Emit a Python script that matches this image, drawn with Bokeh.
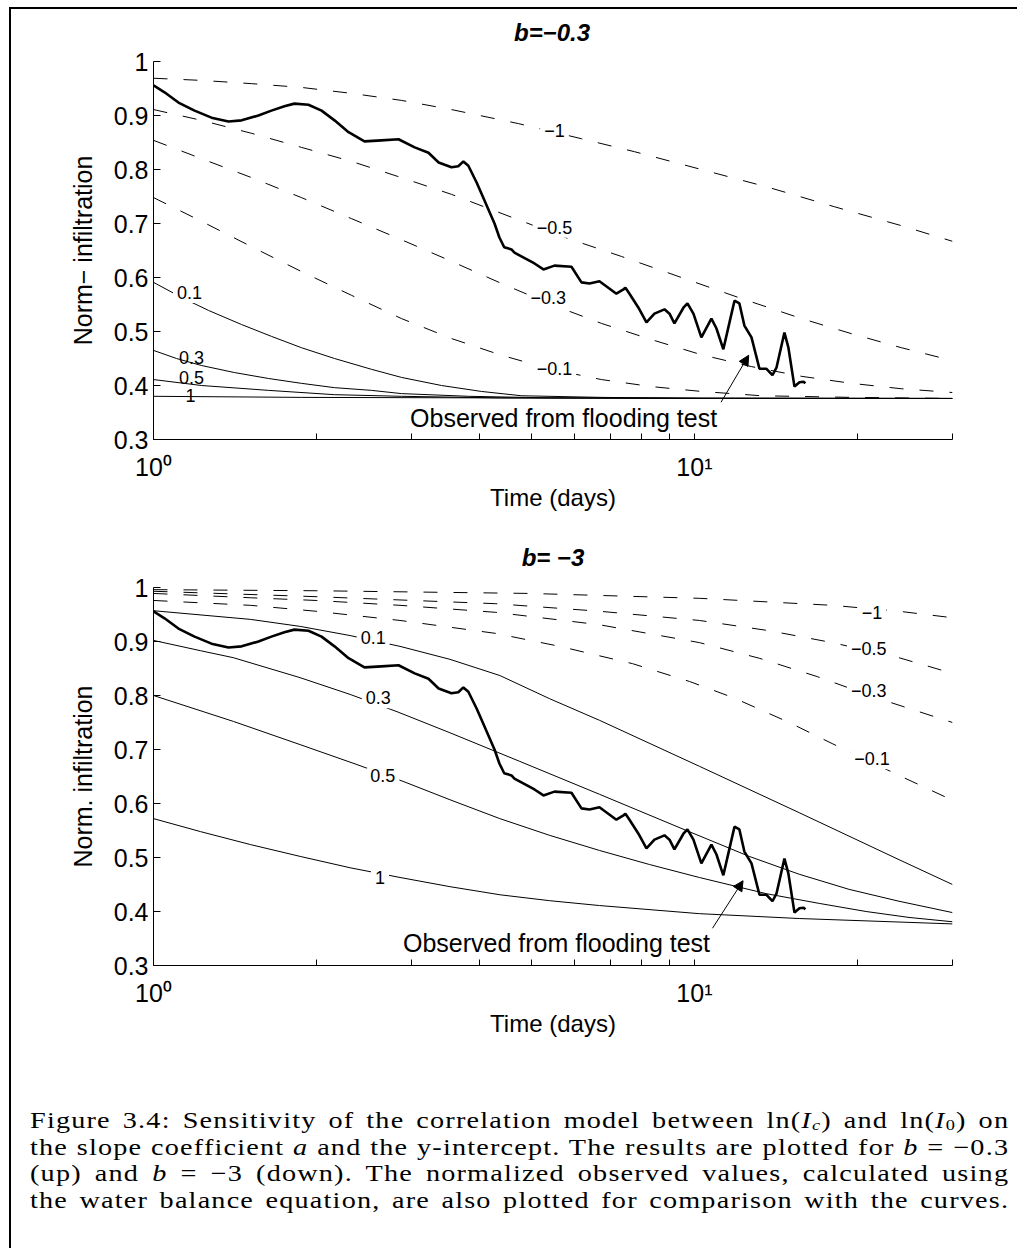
from bokeh.plotting import figure
from bokeh.layouts import column
from bokeh.models import (ColumnDataSource, FixedTicker, LabelSet, Arrow,
                          NormalHead, Div, Range1d)
from bokeh.core.properties import value
from bokeh.embed import file_html
from bokeh.resources import INLINE

SANS = "Liberation Sans"
DASH = "14 16"

# ---- observed normalised infiltration (water balance), flooding test ----
obs_days = [1.000, 1.048, 1.112, 1.191, 1.280, 1.376, 1.455, 1.563, 1.652, 1.746,
            1.822, 1.934, 2.045, 2.161, 2.294, 2.455, 2.637, 2.838, 3.040, 3.224,
            3.366, 3.555, 3.660, 3.740, 3.820, 3.957, 4.090, 4.270, 4.360, 4.450,
            4.590, 4.648, 5.062, 5.259, 5.511, 5.925, 6.183, 6.397, 6.675, 7.174,
            7.393, 7.456, 7.585, 7.880, 8.153, 8.436, 8.803, 8.994, 9.184, 9.543,
            9.707, 9.958, 10.30, 10.75, 10.98, 11.31, 11.60, 11.86, 12.11, 12.37,
            12.75, 13.19, 13.59, 13.94, 14.18, 14.67, 14.92, 15.31, 15.64, 15.91,
            16.04]
obs_norm = [0.956, 0.943, 0.924, 0.909, 0.896, 0.889, 0.891, 0.900, 0.909, 0.917,
            0.922, 0.920, 0.909, 0.891, 0.869, 0.852, 0.854, 0.856, 0.841, 0.831,
            0.813, 0.804, 0.806, 0.815, 0.807, 0.776, 0.743, 0.700, 0.674, 0.656,
            0.652, 0.646, 0.626, 0.615, 0.622, 0.620, 0.591, 0.589, 0.593, 0.570,
            0.578, 0.581, 0.570, 0.544, 0.517, 0.533, 0.541, 0.533, 0.515, 0.544,
            0.552, 0.533, 0.489, 0.524, 0.506, 0.467, 0.515, 0.557, 0.552, 0.511,
            0.489, 0.431, 0.431, 0.419, 0.433, 0.498, 0.470, 0.398, 0.406, 0.407,
            0.404]

# ---- model curves, b = -0.3 (one per slope coefficient a) ----
b03_m1_days = [1, 1.227, 1.518, 1.877, 2.323, 2.873, 3.555, 4.728, 6.183, 7.747,
               10.30, 13.70, 18.15, 24.13, 30]
b03_m1_norm = [0.969, 0.965, 0.959, 0.952, 0.941, 0.928, 0.911, 0.885, 0.857, 0.833,
               0.800, 0.767, 0.731, 0.696, 0.667]
b03_m05_days = [1, 1.227, 1.518, 1.877, 2.323, 2.873, 3.555, 4.609, 5.850, 7.330,
                9.462, 12.22, 15.77, 19.51, 24.13, 30]
b03_m05_norm = [0.911, 0.891, 0.867, 0.841, 0.815, 0.785, 0.754, 0.711, 0.672, 0.639,
                0.600, 0.561, 0.524, 0.496, 0.470, 0.446]
b03_m03_days = [1, 1.227, 1.518, 1.877, 2.323, 2.873, 3.555, 4.398, 5.441, 6.731,
                8.328, 10.30, 12.75, 15.77, 19.51, 24.13, 30]
b03_m03_norm = [0.854, 0.820, 0.785, 0.748, 0.709, 0.670, 0.630, 0.589, 0.550, 0.515,
                0.485, 0.457, 0.435, 0.417, 0.404, 0.394, 0.387]
b03_m01_days = [1, 1.227, 1.518, 1.877, 2.323, 2.873, 3.555, 4.398, 5.441, 6.731,
                8.328, 10.30, 13.30, 19.51, 30]
b03_m01_norm = [0.748, 0.704, 0.657, 0.611, 0.567, 0.524, 0.487, 0.456, 0.430, 0.411,
                0.398, 0.389, 0.381, 0.378, 0.376]
b03_p01_days = [1, 1.127, 1.264, 1.454, 1.652, 1.877, 2.161, 2.529, 2.873, 3.407,
                4.039, 4.788, 6.731, 10.30, 30]
b03_p01_norm = [0.591, 0.563, 0.539, 0.513, 0.491, 0.470, 0.450, 0.430, 0.415, 0.400,
                0.389, 0.381, 0.378, 0.376, 0.376]
b03_p03_days = [1, 1.103, 1.227, 1.411, 1.631, 1.877, 2.161, 2.529, 2.873, 3.822,
                5.441, 10.30, 30]
b03_p03_norm = [0.465, 0.450, 0.437, 0.424, 0.413, 0.404, 0.396, 0.391, 0.385, 0.380,
                0.377, 0.376, 0.376]
b03_p05_days = [1, 1.227, 1.631, 2.161, 2.873, 4.398, 30]
b03_p05_norm = [0.411, 0.400, 0.391, 0.383, 0.380, 0.377, 0.376]
b03_p1_days = [1, 1.877, 4.398, 30]
b03_p1_norm = [0.380, 0.378, 0.377, 0.376]

# ---- model curves, b = -3 ----
b3_m1_days = [1, 1.998, 4.962, 10.21, 17.97, 23.89, 30]
b3_m1_norm = [0.996, 0.994, 0.989, 0.980, 0.967, 0.956, 0.944]
b3_m05_days = [1, 1.998, 4.294, 6.678, 10.21, 13.75, 17.97, 23.89, 30]
b3_m05_norm = [0.993, 0.983, 0.970, 0.956, 0.939, 0.920, 0.898, 0.870, 0.841]
b3_m03_days = [1, 1.510, 1.998, 2.856, 4.294, 6.678, 10.21, 13.18, 16.87, 21.94, 30]
b3_m03_norm = [0.989, 0.981, 0.976, 0.967, 0.954, 0.931, 0.898, 0.869, 0.835, 0.794,
               0.750]
b3_m01_days = [1, 1.510, 1.998, 2.856, 4.294, 5.636, 7.683, 9.790, 11.80, 14.97,
               17.97, 23.89, 30]
b3_m01_norm = [0.976, 0.967, 0.956, 0.939, 0.915, 0.891, 0.859, 0.826, 0.796, 0.750,
               0.711, 0.652, 0.606]
b3_p01_days = [1, 1.510, 1.867, 2.309, 2.856, 3.532, 4.368, 5.401, 6.678, 10.21,
               15.62, 23.89, 30]
b3_p01_norm = [0.957, 0.941, 0.928, 0.911, 0.891, 0.867, 0.837, 0.794, 0.754, 0.669,
               0.583, 0.496, 0.450]
b3_p03_days = [1, 1.221, 1.405, 1.867, 2.309, 2.820, 3.532, 4.755, 6.678, 9.665,
               12.63, 15.62, 19.32, 23.89, 30]
b3_p03_norm = [0.902, 0.883, 0.870, 0.833, 0.802, 0.770, 0.731, 0.678, 0.617, 0.550,
               0.502, 0.469, 0.441, 0.419, 0.398]
b3_p05_days = [1, 1.405, 1.867, 2.379, 2.893, 3.532, 4.368, 5.401, 6.678, 8.260,
               10.21, 13.58, 17.01, 20.77, 24.93, 30]
b3_p05_norm = [0.800, 0.752, 0.709, 0.672, 0.641, 0.607, 0.572, 0.541, 0.513, 0.487,
               0.463, 0.433, 0.415, 0.400, 0.389, 0.381]
b3_p1_days = [1, 1.221, 1.510, 1.867, 2.309, 2.856, 3.532, 4.368, 5.401, 6.678,
              10.21, 15.62, 30]
b3_p1_norm = [0.572, 0.548, 0.524, 0.502, 0.481, 0.463, 0.446, 0.431, 0.420, 0.411,
              0.396, 0.387, 0.377]

# ---- curve labels (value of a) ----
b03_gap_lbl_text = ["\u22121", "\u22120.5", "\u22120.3", "\u22120.1", "0.1"]
b03_gap_lbl_days = [5.51, 5.51, 5.37, 5.51, 1.166]
b03_gap_lbl_norm = [0.872, 0.693, 0.563, 0.431, 0.572]
b03_lbl_text = ["0.3", "0.5", "1"]
b03_lbl_days = [1.176, 1.176, 1.17]
b03_lbl_norm = [0.452, 0.415, 0.381]

b3_gap_lbl_text = ["\u22121", "\u22120.5", "\u22120.3", "\u22120.1", "0.1", "0.3", "0.5", "1"]
b3_gap_lbl_days = [21.3, 21.0, 21.0, 21.3, 2.548, 2.604, 2.655, 2.623]
b3_gap_lbl_norm = [0.954, 0.887, 0.809, 0.683, 0.907, 0.796, 0.652, 0.463]

# ---- annotation of the observed series ----
note_text = "Observed from flooding test"
b03_note = (5.73, 0.339)
b03_arrow = (11.2, 0.369, 12.6, 0.456)
b3_note = (5.56, 0.341)
b3_arrow = (10.8, 0.369, 12.3, 0.457)

x_major = [1, 10]
x_minor = [2, 3, 4, 5, 6, 7, 8, 9, 20, 30]
y_ticks = [0.3, 0.4, 0.5, 0.6, 0.7, 0.8, 0.9, 1.0]


def heading(text, left, height, pad_top):
    """Bold-italic panel heading centred over an 800 px wide plot frame."""
    inner = (f'<div style="padding: {pad_top}px 0 0 {left}px;">'
             f'<div style="width: 800px; text-align: center;">{text}</div></div>')
    return Div(text=inner, width=1008, height=height, margin=0,
               styles={"font-family": f"'{SANS}', sans-serif", "font-size": "24px",
                       "font-weight": "bold", "font-style": "italic",
                       "line-height": "28px", "color": "black",
                       "overflow": "hidden"})


def make_panel(ylabel, dashed, solid, gap_lbl, plain_lbl, note, arrow,
               height, left, right, top, bottom):
    p = figure(width=1008, height=height, x_axis_type="log",
               x_range=Range1d(1, 30), y_range=Range1d(0.3, 1.0),
               output_backend="svg", toolbar_location=None,
               min_border_left=left, min_border_right=right,
               min_border_top=top, min_border_bottom=bottom)
    p.outline_line_color = None
    p.grid.visible = False
    p.background_fill_color = "white"
    p.border_fill_color = "white"

    xa, ya = p.xaxis[0], p.yaxis[0]
    xa.ticker = FixedTicker(ticks=x_major, minor_ticks=x_minor)
    xa.major_label_overrides = {1: "10\u2070", 10: "10\u00b9"}
    ya.ticker = FixedTicker(ticks=y_ticks)
    ya.major_label_overrides = {1.0: "1"}
    for ax in (xa, ya):
        ax.axis_line_color = "black"
        ax.major_tick_line_color = "black"
        ax.minor_tick_line_color = "black"
        ax.major_tick_out = 0
        ax.minor_tick_out = 0
        ax.major_label_text_font = SANS
        ax.major_label_text_font_size = "25px"
        ax.major_label_text_color = "black"
        ax.axis_label_text_font = SANS
        ax.axis_label_text_font_style = "normal"
        ax.axis_label_text_color = "black"
    xa.major_tick_in = 6
    xa.minor_tick_in = 6
    xa.major_label_standoff = 13
    xa.axis_label = "Time (days)"
    xa.axis_label_text_font_size = "24px"
    xa.axis_label_standoff = 0
    ya.major_tick_in = 7
    ya.major_label_standoff = 5
    ya.axis_label = ylabel
    ya.axis_label_text_font_size = "25px"
    ya.axis_label_standoff = 14

    for days, norm in dashed:
        p.line(days, norm, line_color="black", line_width=1, line_dash=DASH)
    for days, norm in solid:
        p.line(days, norm, line_color="black", line_width=1)
    p.line(obs_days, obs_norm, line_color="black", line_width=2.6)

    txt, xs, ys = gap_lbl
    p.add_layout(LabelSet(x="x", y="y", text="t",
                          source=ColumnDataSource(dict(x=xs, y=ys, t=txt)),
                          text_align="center", text_baseline="middle",
                          text_font=value(SANS), text_font_size="18px",
                          text_color="black",
                          background_fill_color="white",
                          border_line_color="white", border_line_width=8))
    if plain_lbl is not None:
        txt, xs, ys = plain_lbl
        p.add_layout(LabelSet(x="x", y="y", text="t",
                              source=ColumnDataSource(dict(x=xs, y=ys, t=txt)),
                              text_align="center", text_baseline="middle",
                              text_font=value(SANS), text_font_size="18px",
                              text_color="black"))

    p.text(x=[note[0]], y=[note[1]], text=[note_text],
           text_font=value(SANS), text_font_size="25px", text_color="black",
           text_align="center", text_baseline="middle")
    p.add_layout(Arrow(end=NormalHead(size=10, fill_color="black",
                                      line_color="black", line_width=1),
                       x_start=arrow[0], y_start=arrow[1],
                       x_end=arrow[2], y_end=arrow[3],
                       line_color="black", line_width=1))
    return p


top_title = heading("b=\u22120.3", 141, 38, 10)
top = make_panel(
    "Norm\u2212 infiltration",
    [(b03_m1_days, b03_m1_norm), (b03_m05_days, b03_m05_norm),
     (b03_m03_days, b03_m03_norm), (b03_m01_days, b03_m01_norm)],
    [(b03_p01_days, b03_p01_norm), (b03_p03_days, b03_p03_norm),
     (b03_p05_days, b03_p05_norm), (b03_p1_days, b03_p1_norm)],
    (b03_gap_lbl_text, b03_gap_lbl_days, b03_gap_lbl_norm),
    (b03_lbl_text, b03_lbl_days, b03_lbl_norm),
    b03_note, b03_arrow,
    height=493, left=141, right=67, top=14, bottom=101)

bottom_title = heading("b= \u22123", 142, 35, 4)
bottom = make_panel(
    "Norm. infiltration",
    [(b3_m1_days, b3_m1_norm), (b3_m05_days, b3_m05_norm),
     (b3_m03_days, b3_m03_norm), (b3_m01_days, b3_m01_norm)],
    [(b3_p01_days, b3_p01_norm), (b3_p03_days, b3_p03_norm),
     (b3_p05_days, b3_p05_norm), (b3_p1_days, b3_p1_norm)],
    (b3_gap_lbl_text, b3_gap_lbl_days, b3_gap_lbl_norm),
    None,
    b3_note, b3_arrow,
    height=505, left=142, right=66, top=12, bottom=115)

# caption: justified lines set on an 816 px measure, widened to 980 px
line_style = "width: 816px; text-align: justify; text-align-last: justify;"
sub_style = "font-size: 65%; line-height: 0; vertical-align: -0.12em;"
caption_lines = [
    "Figure 3.4: Sensitivity of the correlation model between "
    f"ln(<i>I<span style='{sub_style}'>c</span></i>) and "
    f"ln(<i>I</i><span style='{sub_style}'>0</span>) on",
    "the slope coefficient <i>a</i> and the y-intercept. "
    "The results are plotted for <i>b</i> = \u22120.3",
    "(up) and <i>b</i> = \u22123 (down). The normalized observed values, "
    "calculated using",
    "the water balance equation, are also plotted for comparison with the curves.",
]
caption_html = ('<div style="padding: 27px 0 0 19px;">'
                '<div style="transform: scaleX(1.2); transform-origin: 0 0; width: 816px;">'
                + "".join(f'<div style="{line_style}">{ln}</div>' for ln in caption_lines)
                + "</div></div>")
caption = Div(
    text=caption_html,
    width=1008, height=170, margin=0,
    styles={"font-family": "'Liberation Serif', serif", "font-size": "23.5px",
            "line-height": "26.5px", "letter-spacing": "1px", "color": "black",
            "overflow": "hidden"})

# frame drawn on the left and top edges only
page = column(top_title, top, bottom_title, bottom, caption,
              margin=(9, 0, 0, 11), spacing=0,
              styles={"box-shadow": "-2px -2px 0 0 black", "overflow": "hidden"})

open("out.html", "w").write(file_html(page, INLINE))
